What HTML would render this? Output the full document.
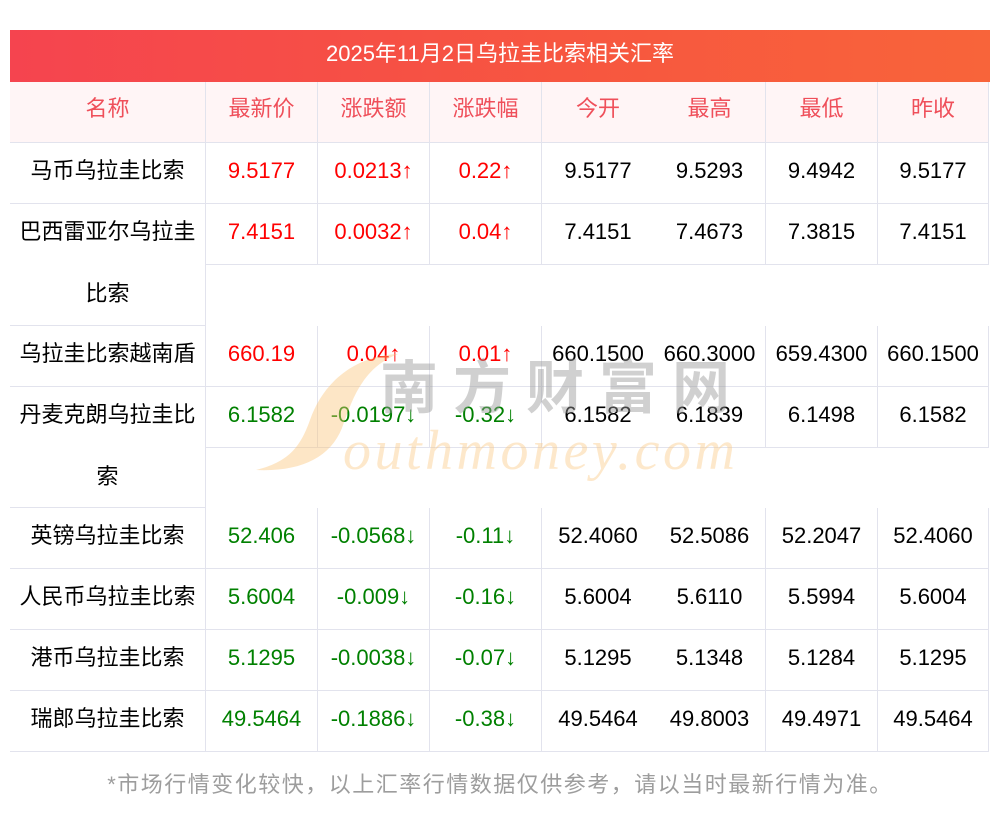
<!DOCTYPE html>
<html>
<head>
<meta charset="utf-8">
<style>
  html,body{margin:0;padding:0;background:#fff;}
  body{width:1000px;height:817px;position:relative;overflow:hidden;font-family:"Liberation Sans","Noto Sans CJK SC",sans-serif;}
  .wrap{position:absolute;left:10px;top:30px;width:980px;}
  .title{height:52px;line-height:48px;text-align:center;color:#fff;font-size:22px;background:linear-gradient(to right,#f5444f,#f7573f 60%,#f8643a);}
  .row{display:flex;align-items:flex-start;}
  .c{box-sizing:border-box;height:61px;width:112px;border-right:1px solid #e2e3ed;border-bottom:1px solid #e2e3ed;text-align:center;line-height:56px;font-size:22px;white-space:nowrap;color:#000;}
  .c.nb{border-right:none;}
  .c.last{width:111px;}
  .n{width:196px;white-space:normal;}
  .hd .c{background:#fff5f6;color:#ef4f5a;line-height:54px;}
  .tall{height:122px;}
  .tall2{height:121px;}
  .tall .in,.tall2 .in{position:relative;top:-3px;line-height:62px;}
  .r{color:#ff0000;}
  .g{color:#008000;}
  .foot{position:absolute;left:0;top:760px;width:1000px;text-align:center;line-height:50px;font-size:22px;color:#9d9d9d;letter-spacing:1.5px;}
  .wm1{position:absolute;left:380px;top:354px;font-family:"Noto Sans CJK SC","WenQuanYi Zen Hei",sans-serif;font-weight:700;font-size:58px;line-height:58px;letter-spacing:15px;color:rgba(150,150,150,0.45);white-space:nowrap;}
  .wm2{position:absolute;left:343px;top:423px;font-family:"Liberation Serif",serif;font-style:italic;font-size:56px;line-height:56px;letter-spacing:3.5px;color:rgba(250,200,130,0.42);white-space:nowrap;}
  svg.s{position:absolute;left:0;top:0;}
</style>
</head>
<body>
<div class="wrap">
  <div class="title">2025年11月2日乌拉圭比索相关汇率</div>
  <div class="row hd">
    <div class="c n">名称</div>
    <div class="c">最新价</div>
    <div class="c">涨跌额</div>
    <div class="c">涨跌幅</div>
    <div class="c nb">今开</div>
    <div class="c">最高</div>
    <div class="c">最低</div>
    <div class="c last">昨收</div>
  </div>
  <div class="row">
    <div class="c n">马币乌拉圭比索</div>
    <div class="c r">9.5177</div>
    <div class="c r">0.0213↑</div>
    <div class="c r">0.22↑</div>
    <div class="c nb">9.5177</div>
    <div class="c">9.5293</div>
    <div class="c">9.4942</div>
    <div class="c last">9.5177</div>
  </div>
  <div class="row">
    <div class="c n tall"><div class="in">巴西雷亚尔乌拉圭比索</div></div>
    <div class="c r">7.4151</div>
    <div class="c r">0.0032↑</div>
    <div class="c r">0.04↑</div>
    <div class="c nb">7.4151</div>
    <div class="c">7.4673</div>
    <div class="c">7.3815</div>
    <div class="c last">7.4151</div>
  </div>
  <div class="row">
    <div class="c n">乌拉圭比索越南盾</div>
    <div class="c r">660.19</div>
    <div class="c r">0.04↑</div>
    <div class="c r">0.01↑</div>
    <div class="c nb">660.1500</div>
    <div class="c">660.3000</div>
    <div class="c">659.4300</div>
    <div class="c last">660.1500</div>
  </div>
  <div class="row">
    <div class="c n tall2"><div class="in">丹麦克朗乌拉圭比索</div></div>
    <div class="c g">6.1582</div>
    <div class="c g">-0.0197↓</div>
    <div class="c g">-0.32↓</div>
    <div class="c nb">6.1582</div>
    <div class="c">6.1839</div>
    <div class="c">6.1498</div>
    <div class="c last">6.1582</div>
  </div>
  <div class="row">
    <div class="c n">英镑乌拉圭比索</div>
    <div class="c g">52.406</div>
    <div class="c g">-0.0568↓</div>
    <div class="c g">-0.11↓</div>
    <div class="c nb">52.4060</div>
    <div class="c">52.5086</div>
    <div class="c">52.2047</div>
    <div class="c last">52.4060</div>
  </div>
  <div class="row">
    <div class="c n">人民币乌拉圭比索</div>
    <div class="c g">5.6004</div>
    <div class="c g">-0.009↓</div>
    <div class="c g">-0.16↓</div>
    <div class="c nb">5.6004</div>
    <div class="c">5.6110</div>
    <div class="c">5.5994</div>
    <div class="c last">5.6004</div>
  </div>
  <div class="row">
    <div class="c n">港币乌拉圭比索</div>
    <div class="c g">5.1295</div>
    <div class="c g">-0.0038↓</div>
    <div class="c g">-0.07↓</div>
    <div class="c nb">5.1295</div>
    <div class="c">5.1348</div>
    <div class="c">5.1284</div>
    <div class="c last">5.1295</div>
  </div>
  <div class="row">
    <div class="c n">瑞郎乌拉圭比索</div>
    <div class="c g">49.5464</div>
    <div class="c g">-0.1886↓</div>
    <div class="c g">-0.38↓</div>
    <div class="c nb">49.5464</div>
    <div class="c">49.8003</div>
    <div class="c">49.4971</div>
    <div class="c last">49.5464</div>
  </div>
</div>

<svg class="s" width="1000" height="817" viewBox="0 0 1000 817">
  <path d="M 398 354 C 352 356, 322 385, 310 420 C 300 448, 288 462, 256 470 C 300 472, 330 458, 342 428 C 352 400, 362 368, 398 354 Z" fill="rgba(250,195,120,0.42)"/>
</svg>
<div class="wm1">南方财富网</div>
<div class="wm2">outhmoney.com</div>

<div class="foot">*市场行情变化较快，以上汇率行情数据仅供参考，请以当时最新行情为准。</div>
</body>
</html>
